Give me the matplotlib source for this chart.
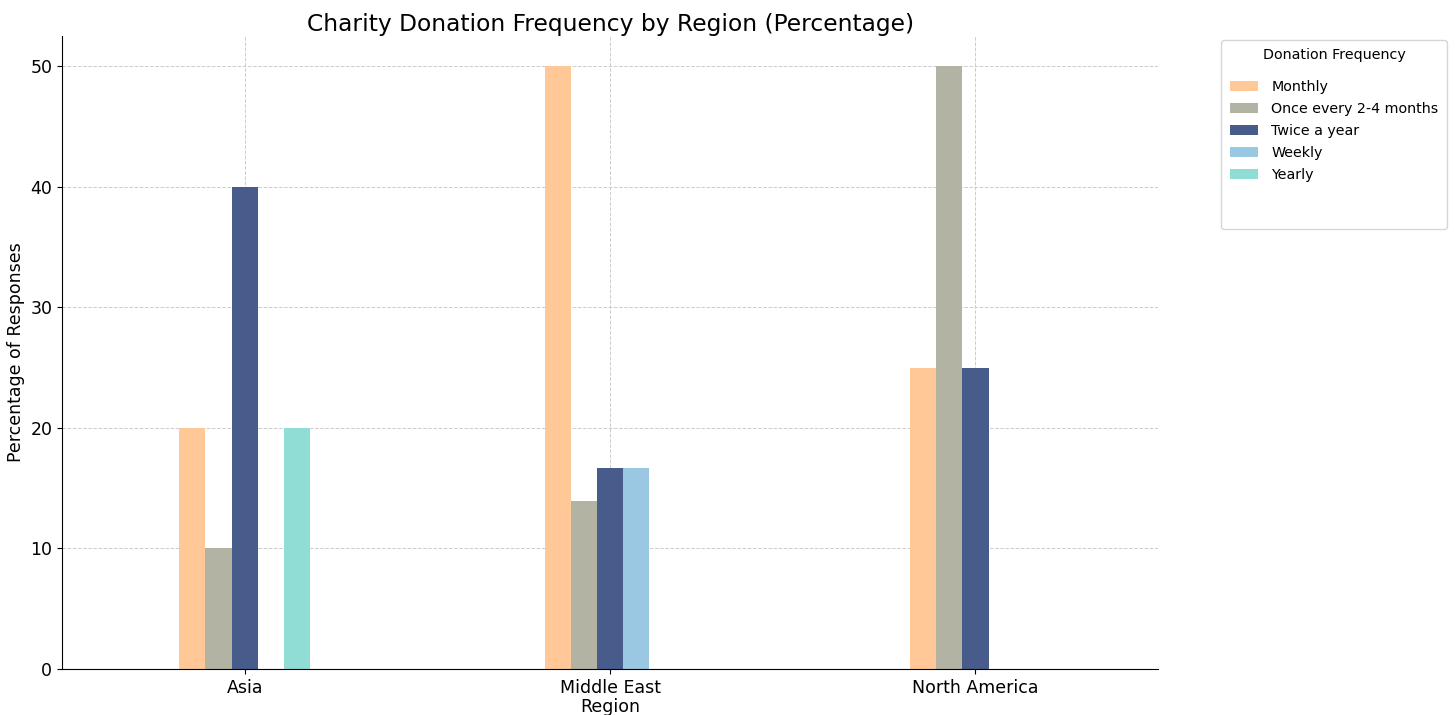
import numpy as np
import matplotlib.pyplot as plt
from matplotlib.patches import Patch

regions = ["Asia", "Middle East", "North America"]
frequencies = ["Monthly", "Once every 2-4 months", "Twice a year", "Weekly", "Yearly"]
monthly = [20, 50, 25]
once_2_4 = [10, 13.9, 50]
twice_year = [40, 16.7, 25]
weekly = [0, 16.7, 0]
yearly = [20, 0, 0]
colors = ["#FFC896", "#B3B3A3", "#475C8A", "#9AC8E2", "#90DDD6"]

series = [monthly, once_2_4, twice_year, weekly, yearly]

fig = plt.figure(figsize=(14.55, 7.15), dpi=100)
ax = fig.add_axes([0.0426, 0.0643, 0.7534, 0.8854])

x = np.arange(len(regions))
width = 0.0715
for i, (vals, name, c) in enumerate(zip(series, frequencies, colors)):
    ax.bar(x + (i - 2) * width, vals, width, color=c, label=name, zorder=2)

ax.set_xlim(-0.5, 2.5)
ax.set_ylim(0, 52.5)
ax.set_xticks(x)
ax.set_xticklabels(regions, fontsize=12.5)
ax.tick_params(axis="y", labelsize=12.5)
ax.set_xlabel("Region", fontsize=12.5, labelpad=1)
ax.set_ylabel("Percentage of Responses", fontsize=12.5)
ax.set_title("Charity Donation Frequency by Region (Percentage)", fontsize=16.8, pad=3)
ax.grid(True, linestyle="--", color="#CCCCCC", linewidth=0.7, zorder=0)
ax.spines["top"].set_visible(False)
ax.spines["right"].set_visible(False)

handles, labels = ax.get_legend_handles_labels()
handles.append(Patch(facecolor="none", edgecolor="none"))
labels.append(" \n ")
leg = ax.legend(handles, labels, title="Donation Frequency", loc="upper left",
                bbox_to_anchor=(1.0575, 0.994), borderaxespad=0, fontsize=10.3,
                title_fontsize=10.3, borderpad=0.6, labelspacing=0.56,
                handletextpad=0.9)
# a bit more room under the legend title
leg._legend_box.sep = 13

fig.savefig("out.png", dpi=100)
